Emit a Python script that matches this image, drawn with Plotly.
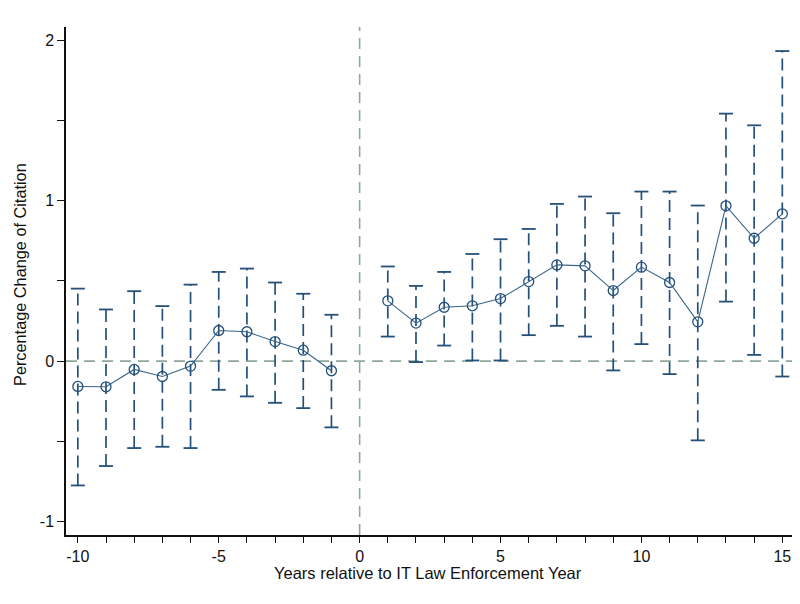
import plotly.graph_objects as go

years = [-10, -9, -8, -7, -6, -5, -4, -3, -2, -1, 1, 2, 3, 4, 5, 6, 7, 8, 9, 10, 11, 12, 13, 14, 15]
coef = [-0.158, -0.160, -0.052, -0.096, -0.031, 0.191, 0.183, 0.122, 0.068, -0.060,
        0.376, 0.237, 0.336, 0.345, 0.390, 0.496, 0.600, 0.594, 0.440, 0.586, 0.490, 0.245, 0.968, 0.766, 0.918]
ci_hi = [0.452, 0.322, 0.436, 0.343, 0.477, 0.556, 0.577, 0.490, 0.420, 0.289,
         0.590, 0.469, 0.556, 0.668, 0.760, 0.824, 0.980, 1.026, 0.922, 1.057, 1.057, 0.970, 1.543, 1.470, 1.933]
ci_lo = [-0.775, -0.654, -0.542, -0.534, -0.542, -0.179, -0.220, -0.260, -0.293, -0.413,
         0.153, -0.006, 0.097, 0.004, 0.004, 0.162, 0.220, 0.153, -0.058, 0.106, -0.081, -0.494, 0.371, 0.039, -0.096]

x_tickvals = list(range(-10, 16))
x_ticktext = [str(v) if v % 5 == 0 else "" for v in x_tickvals]
y_tickvals = [-1, -0.5, 0, 0.5, 1, 1.5, 2]
y_ticktext = ["-1", "", "0", "", "1", "", "2"]

navy = "#24507a"
refc = "#90a79e"

fig = go.Figure()

# dashed CI stems
sx, sy = [], []
for x, lo, hi in zip(years, ci_lo, ci_hi):
    sx += [x, x, None]
    sy += [lo, hi, None]
fig.add_trace(go.Scatter(x=sx, y=sy, mode="lines",
                         line=dict(color=navy, width=1.7, dash="12px,6px"),
                         hoverinfo="skip", showlegend=False))
# caps
fig.add_trace(go.Scatter(x=years + years, y=ci_hi + ci_lo, mode="markers",
                         marker=dict(symbol="line-ew", size=10, line=dict(color=navy, width=1.8)),
                         hoverinfo="skip", showlegend=False))

# connected point estimates (gap at 0)
lx, ly = [], []
for x, c in zip(years, coef):
    if x == 1:
        lx.append(None); ly.append(None)
    lx.append(x); ly.append(c)
fig.add_trace(go.Scatter(x=lx, y=ly, mode="lines+markers",
                         line=dict(color="#3a6688", width=1.1),
                         marker=dict(symbol="circle-open", size=10, color=navy, line=dict(width=1.3)),
                         showlegend=False))

# the page body has an 8px default margin, so the figure is shifted by 8px
fig.update_layout(
    width=792, height=596,
    margin=dict(l=58, r=5, t=19, b=69),
    paper_bgcolor="white", plot_bgcolor="white",
    font=dict(family="Liberation Sans, Arial", size=16, color="#111"),
    showlegend=False,
    shapes=[
        dict(type="line", xref="x", yref="paper", x0=0, x1=0, y0=0, y1=1,
             line=dict(color=refc, width=1.6, dash="11px,7px"), layer="below"),
        dict(type="line", xref="paper", yref="y", x0=0, x1=1, y0=0, y1=0,
             line=dict(color=refc, width=1.6, dash="11px,7px"), layer="below"),
    ],
    annotations=[
        dict(text="Percentage Change of Citation", xref="paper", yref="paper",
             x=-0.063, y=0.512, textangle=-90, showarrow=False, xanchor="center", yanchor="middle",
             font=dict(size=16.3)),
        dict(text="Years relative to IT Law Enforcement Year", xref="paper", yref="paper",
             x=0.4966, y=-0.0748, showarrow=False, xanchor="center", yanchor="middle",
             font=dict(size=16.5)),
    ],
)
fig.update_xaxes(range=[-10.42, 15.45], tickmode="array", tickvals=x_tickvals, ticktext=x_ticktext,
                 ticks="outside", ticklen=6, tickwidth=1, tickcolor="#111",
                 showline=True, linecolor="#111", linewidth=1.5, showgrid=False, zeroline=False,
                 tickfont=dict(size=16))
fig.update_yaxes(range=[-1.084, 2.083], tickmode="array", tickvals=y_tickvals, ticktext=y_ticktext,
                 ticks="outside", ticklen=7, tickwidth=1, tickcolor="#111",
                 showline=True, linecolor="#111", linewidth=1.5, showgrid=False, zeroline=False,
                 tickfont=dict(size=16))

fig.write_html("out.html")
